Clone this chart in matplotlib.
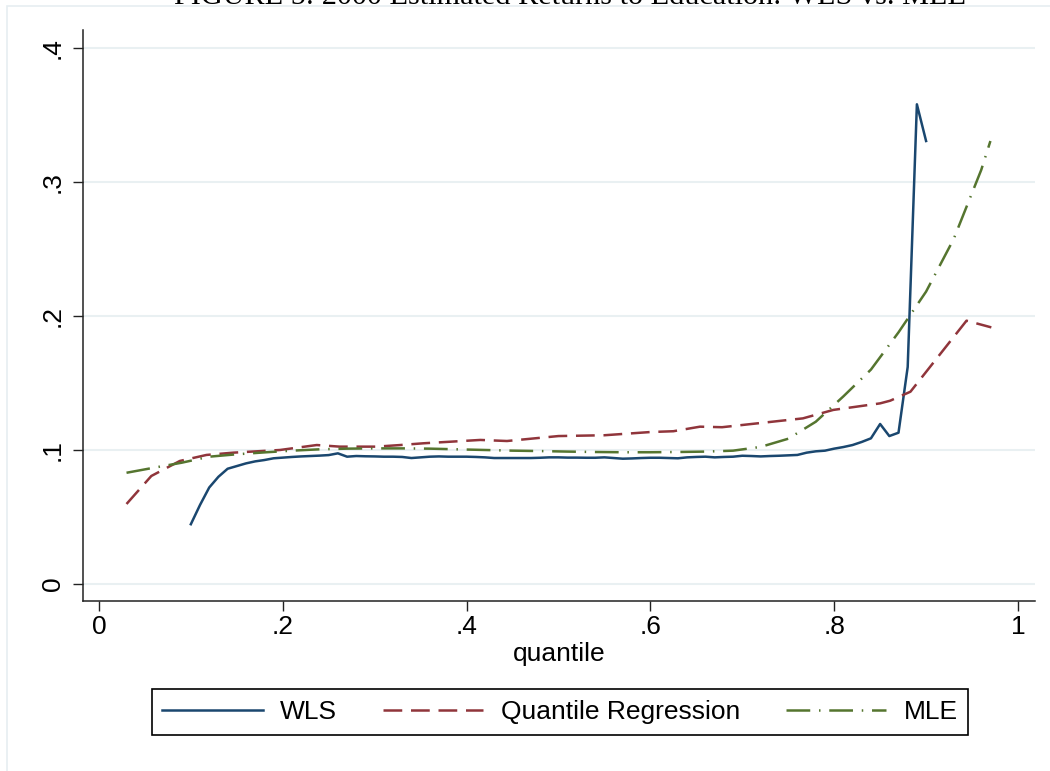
import matplotlib
matplotlib.use("Agg")
import matplotlib.pyplot as plt
from matplotlib.patches import Rectangle

plt.rcParams["font.family"] = ["Liberation Sans", "DejaVu Sans"]

# WLS estimates, quantiles .10 to .90
wls_q = [round(0.10 + 0.01 * i, 2) for i in range(81)]
wls = [
    0.0446, 0.0590, 0.0720, 0.0800, 0.0860, 0.0880, 0.0900, 0.0915, 0.0925, 0.0938,
    0.0943, 0.0948, 0.0952, 0.0955, 0.0958, 0.0962, 0.0975, 0.0950, 0.0955, 0.0953,
    0.0952, 0.0950, 0.0950, 0.0948, 0.0940, 0.0945, 0.0950, 0.0952, 0.0950, 0.0950,
    0.0950, 0.0948, 0.0945, 0.0940, 0.0940, 0.0940, 0.0940, 0.0940, 0.0942, 0.0945,
    0.0945, 0.0943, 0.0943, 0.0942, 0.0942, 0.0945, 0.0940, 0.0935, 0.0937, 0.0940,
    0.0942, 0.0942, 0.0940, 0.0938, 0.0945, 0.0948, 0.0950, 0.0945, 0.0948, 0.0950,
    0.0957, 0.0955, 0.0952, 0.0955, 0.0957, 0.0960, 0.0963, 0.0980, 0.0990, 0.0995,
    0.1010, 0.1022, 0.1037, 0.1060, 0.1087, 0.1194, 0.1104, 0.1129, 0.1620, 0.3580,
    0.3306,
]

# quantile regression
qr_q = [0.03, 0.057, 0.088, 0.117, 0.146, 0.197, 0.237, 0.262, 0.302, 0.328,
        0.353, 0.378, 0.415, 0.444, 0.50, 0.55, 0.60, 0.625, 0.654, 0.678,
        0.766, 0.799, 0.850, 0.861, 0.883, 0.944, 0.971]
qr = [0.0597, 0.0806, 0.0918, 0.0963, 0.0980, 0.1000, 0.1037, 0.1025, 0.1025, 0.1037,
      0.1050, 0.1060, 0.1075, 0.1067, 0.1104, 0.1110, 0.1134, 0.1140, 0.1174, 0.1170,
      0.1236, 0.1299, 0.1348, 0.1368, 0.1435, 0.1965, 0.1915]

# MLE
mle_q = [0.03, 0.06, 0.09, 0.12, 0.15, 0.18, 0.21, 0.24, 0.27, 0.30, 0.33, 0.36,
         0.39, 0.42, 0.45, 0.48, 0.51, 0.54, 0.57, 0.60, 0.63, 0.66, 0.69, 0.72,
         0.75, 0.78, 0.81, 0.84, 0.87, 0.90, 0.93, 0.96, 0.97]
mle = [0.0830, 0.0868, 0.0905, 0.0950, 0.0968, 0.0982, 0.0995, 0.1005, 0.1010, 0.1012,
       0.1012, 0.1010, 0.1005, 0.1000, 0.0995, 0.0992, 0.0988, 0.0985, 0.0983, 0.0983,
       0.0985, 0.0988, 0.0995, 0.1023, 0.1084, 0.1211, 0.1400, 0.1600, 0.1878, 0.2182,
       0.2574, 0.3090, 0.3306]

xticks = [0, 0.2, 0.4, 0.6, 0.8, 1]
xtick_labels = ["0", ".2", ".4", ".6", ".8", "1"]
yticks = [0, 0.1, 0.2, 0.3, 0.4]
ytick_labels = ["0", ".1", ".2", ".3", ".4"]

fig = plt.figure(figsize=(10.5, 7.71), dpi=100)
ax = fig.add_axes([0.079, 0.2205, 0.9067, 0.7405])

ax.plot(wls_q, wls, color="#1a476f", lw=1.8, label="WLS")
ax.plot(qr_q, qr, color="#90353b", lw=1.8, ls=(0, (7.5, 3.5)), label="Quantile Regression")
ax.plot(mle_q, mle, color="#55752f", lw=1.8, ls=(0, (9.5, 3.5, 0.6, 3.5)), label="MLE")

ax.set_xlim(-0.0174, 1.0185)
ax.set_ylim(-0.0127, 0.4134)
ax.set_xticks(xticks)
ax.set_xticklabels(xtick_labels)
ax.set_yticks(yticks)
ax.set_yticklabels(ytick_labels, rotation=90, va="center")
ax.tick_params(labelsize=19, length=7, width=1, color="#222222")
ax.tick_params(axis="y", pad=6)
ax.tick_params(axis="x", pad=3)
ax.grid(axis="y", color="#e9f0f2", lw=1.5)
ax.set_axisbelow(True)
for side in ["top", "right"]:
    ax.spines[side].set_visible(False)
for side in ["left", "bottom"]:
    ax.spines[side].set_color("#222222")
    ax.spines[side].set_linewidth(1.1)
ax.set_xlabel("quantile", fontsize=19, labelpad=2)

leg = fig.legend(loc="center", bbox_to_anchor=(560 / 1050, 1 - 712 / 771), ncol=3,
                 fontsize=19, handlelength=3.8, handletextpad=0.65, columnspacing=1.75,
                 borderpad=0.4, fancybox=False, framealpha=1, edgecolor="black")
leg.get_frame().set_linewidth(1.2)

# light outer frame of the graph region
fig.add_artist(Rectangle((7 / 1050, -0.05), 1.1, 1 - 6 / 771 + 0.05, fill=False,
                         edgecolor="#e6eef1", lw=1.2, transform=fig.transFigure))

# page title, mostly cut off at the top
fig.text(570 / 1050, 1 - 4.5 / 771, "FIGURE 5: 2000 Estimated Returns to Education: WLS vs. MLE",
         family=["Liberation Serif", "DejaVu Serif"], fontsize=21.75, ha="center", va="baseline")

fig.savefig("out.png", dpi=100)
